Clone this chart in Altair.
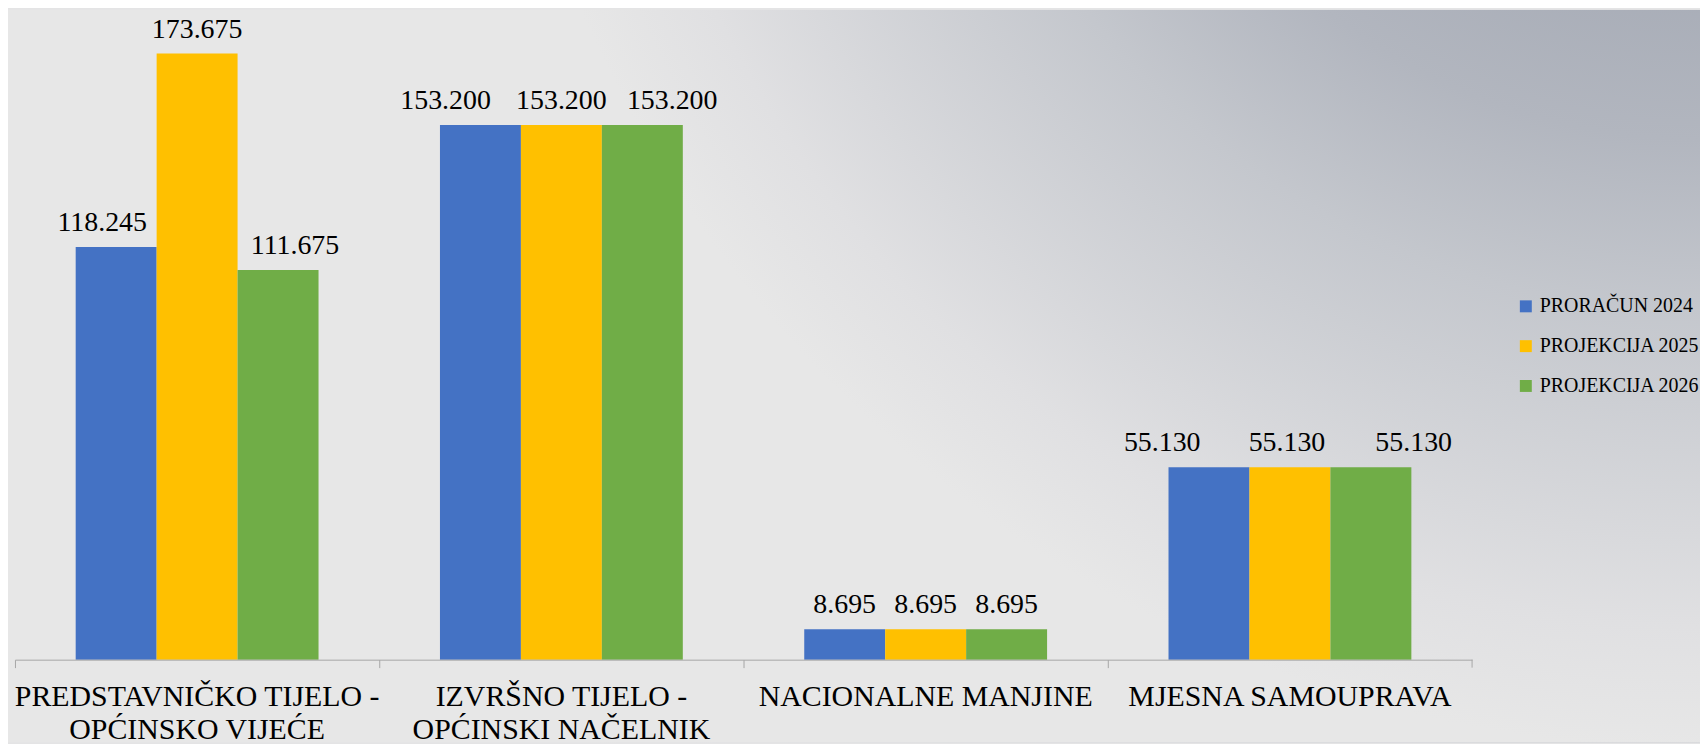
import altair as alt
import pandas as pd

categories = [
    "PREDSTAVNIČKO TIJELO - OPĆINSKO VIJEĆE",
    "IZVRŠNO TIJELO - OPĆINSKI NAČELNIK",
    "NACIONALNE MANJINE",
    "MJESNA SAMOUPRAVA",
]
series = ["PRORAČUN 2024", "PROJEKCIJA 2025", "PROJEKCIJA 2026"]
proracun_2024 = [118245, 153200, 8695, 55130]
projekcija_2025 = [173675, 153200, 8695, 55130]
projekcija_2026 = [111675, 153200, 8695, 55130]
colors = ["#4472C4", "#FFC000", "#70AD47"]

# style: horizontal nudges of value labels (pixels), per category / series
label_nudge = [
    [-14, 0, 17],
    [-35, 0, 30],
    [0, 0, 0],
    [-47, -3, 43],
]

rows = []
for i, c in enumerate(categories):
    for j, (s, vals) in enumerate(zip(series, [proracun_2024, projekcija_2025, projekcija_2026])):
        v = vals[i]
        rows.append({"cat": c, "series": s, "value": v,
                     "label": f"{v:,}".replace(",", "."),
                     "ci": i, "sj": j})
df = pd.DataFrame(rows)

W, H = 1464, 653
FONT = "serif"

x_enc = alt.X("cat:N", sort=categories,
              scale=alt.Scale(paddingInner=0, paddingOuter=0),
              axis=alt.Axis(title=None, labelAngle=0, labelFont=FONT, labelFontSize=30,
                            labelColor="#000000", labelPadding=14, labelLineHeight=33,
                            labelBaseline="top", labelLimit=500, labelOverlap=False,
                            labelExpr="split(replace(datum.label, ' - ', ' -|'), '|')",
                            domainColor="#a6a6a6", tickColor="#a6a6a6", tickSize=8,
                            bandPosition=0, grid=False, zindex=2))
xo_enc = alt.XOffset("series:N", sort=series,
                     scale=alt.Scale(paddingInner=0, paddingOuter=0.75))
y_enc = alt.Y("value:Q", scale=alt.Scale(domain=[0, 186250], nice=False), axis=None)

one = pd.DataFrame({"a": [0]})

bg = alt.Chart(one).mark_rect(
    color=alt.Gradient(gradient="radial",
                       stops=[alt.GradientStop(color="#8c93a1", offset=0),
                              alt.GradientStop(color="#b2b6bf", offset=0.5),
                              alt.GradientStop(color="#c4c7cd", offset=0.64),
                              alt.GradientStop(color="#e0e0e2", offset=0.9),
                              alt.GradientStop(color="#e7e7e7", offset=1)],
                       x1=1, y1=0, r1=0, x2=1, y2=0, r2=0.72)
).encode(x=alt.value(-7), x2=alt.value(1693), y=alt.value(0), y2=alt.value(736))

bars = alt.Chart(df).mark_bar().encode(
    x=x_enc, xOffset=xo_enc, y=y_enc,
    color=alt.Color("series:N", sort=series,
                    scale=alt.Scale(domain=series, range=colors),
                    legend=alt.Legend(title=None, orient="none", legendX=1508, legendY=288,
                                      labelFont=FONT, labelFontSize=20, labelColor="#000000",
                                      symbolType="square", symbolSize=144, symbolStrokeWidth=0,
                                      rowPadding=20, labelOffset=4, labelLimit=400)),
)

text_layers = []
for i, c in enumerate(categories):
    for j, s in enumerate(series):
        t = alt.Chart(df).transform_filter(
            (alt.datum.ci == i) & (alt.datum.sj == j)
        ).mark_text(font=FONT, fontSize=28, color="#000000", baseline="alphabetic",
                    dy=-16, dx=label_nudge[i][j]).encode(
            x=alt.X("cat:N", sort=categories), xOffset=alt.XOffset("series:N", sort=series),
            y="value:Q", text="label:N")
        text_layers.append(t)

end_tick = alt.Chart(one).mark_rule(color="#a6a6a6").encode(
    x=alt.value(W), y=alt.value(H), y2=alt.value(H + 8))

chart = alt.layer(bg, bars, *text_layers, end_tick).properties(
    width=W, height=H, padding=0, background="#e4e4e5"
).configure_view(stroke=None)

chart.save("out.html", embed_options={"renderer": "svg", "actions": False})
